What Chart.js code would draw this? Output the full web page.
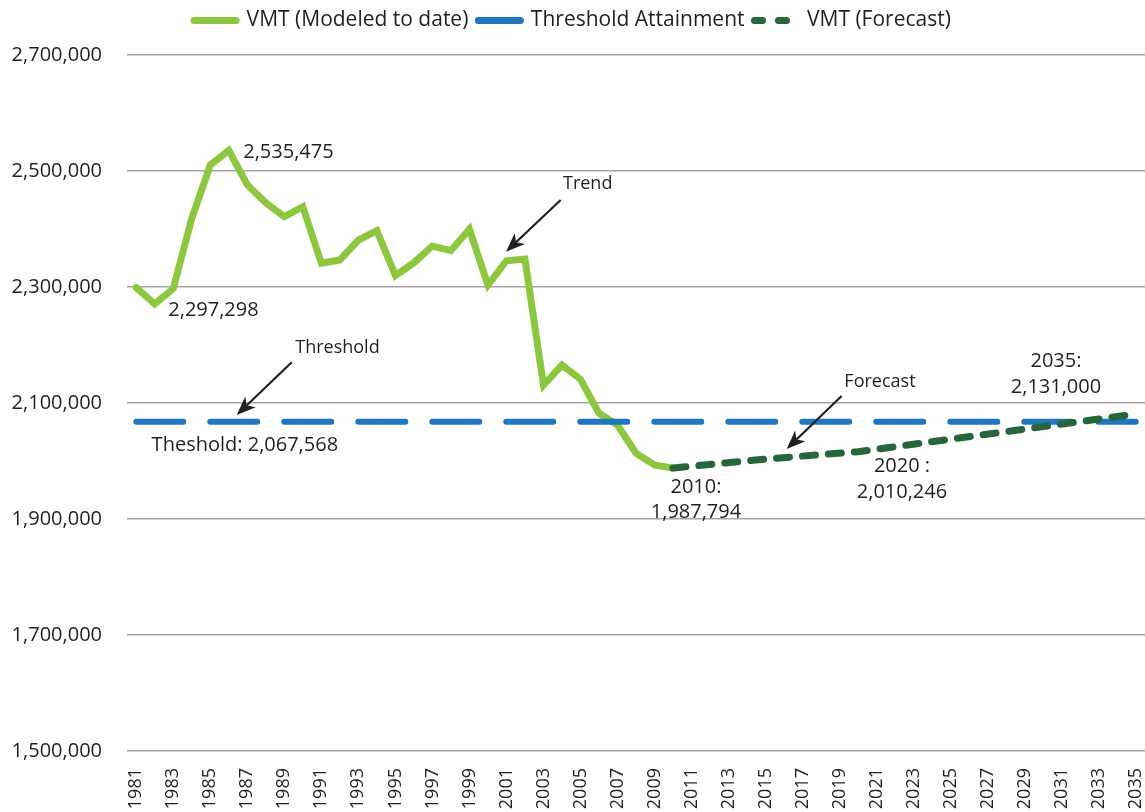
<!DOCTYPE html>
<html>
<head>
<meta charset="utf-8">
<title>VMT</title>
<script src="https://cdn.jsdelivr.net/npm/chart.js@4.4.1/dist/chart.umd.min.js"></script>
<style>
  html, body { margin: 0; padding: 0; background: #fff; }
</style>
</head>
<body>
<canvas id="vmt_chart" width="1145" height="812"></canvas>
<script>
// categories
const years = [
  "1981", "1982", "1983", "1984", "1985", "1986", "1987", "1988", "1989", "1990",
  "1991", "1992", "1993", "1994", "1995", "1996", "1997", "1998", "1999", "2000",
  "2001", "2002", "2003", "2004", "2005", "2006", "2007", "2008", "2009", "2010",
  "2011", "2012", "2013", "2014", "2015", "2016", "2017", "2018", "2019", "2020",
  "2021", "2022", "2023", "2024", "2025", "2026", "2027", "2028", "2029", "2030",
  "2031", "2032", "2033", "2034", "2035",
];

// VMT modeled, 1981 - 2010
const modeled_vmt = [
  2299000, 2270700, 2297298, 2418400, 2510300, 2535475, 2475900, 2445300, 2421200, 2438400,
  2340900, 2346600, 2381000, 2397100, 2319500, 2341900, 2370700, 2362600, 2399500, 2303400,
  2345300, 2348300, 2131000, 2165500, 2140900, 2082200, 2062100, 2013300, 1993100, 1987794,
];

// forecast
const forecast_years = ["2010", "2015", "2020", "2025", "2030", "2035"];
const forecast_vmt = [1987794, 2003400, 2016000, 2037600, 2059300, 2081000];

// threshold attainment
const threshold_years = ["1981", "2035"];
const threshold_vmt = [2067568, 2067568];

// y axis
const y_min = 1500000;
const y_max = 2700000;
const y_step = 200000;

// annotations, placed in chart units (year, value)
const note_labels = [
  { text: "2,535,475", year: 1986.78, value: 2521900, align: "left", size: 20 },
  { text: "2,297,298", year: 1982.73, value: 2250000, align: "left", size: 20 },
  { text: "Theshold: 2,067,568", year: 1981.83, value: 2017800, align: "left", size: 20 },
  { text: "Threshold", year: 1991.87, value: 2186700, align: "center", size: 18 },
  { text: "Trend", year: 2005.39, value: 2468500, align: "center", size: 18 },
  { text: "Forecast", year: 2021.18, value: 2128100, align: "center", size: 18 },
  { text: "2010:", year: 2011.24, value: 1945300, align: "center", size: 20 },
  { text: "1,987,794", year: 2011.24, value: 1901100, align: "center", size: 20 },
  { text: "2020 :", year: 2022.37, value: 1981600, align: "center", size: 20 },
  { text: "2,010,246", year: 2022.37, value: 1935700, align: "center", size: 20 },
  { text: "2035:", year: 2030.69, value: 2162600, align: "center", size: 20 },
  { text: "2,131,000", year: 2030.69, value: 2116700, align: "center", size: 20 },
];
const note_arrows = [
  { from: [2003.93, 2450000], to: [2000.98, 2360900] },
  { from: [1989.40, 2170200], to: [1986.43, 2079300] },
  { from: [2019.11, 2112100], to: [2016.14, 2020700] },
];

const TEXT = "#231f20";
const LIGHT_GREEN = "#8dc63f";
const BLUE = "#1f77c0";
const DARK_GREEN = "#27663a";
const FONT = '"Open Sans", "Noto Sans", sans-serif';

Chart.defaults.font.family = FONT;
Chart.defaults.color = TEXT;

const legend_dash = [[], [], [8, 16]];

function drawArrow(ctx, x1, y1, x2, y2) {
  const ang = Math.atan2(y2 - y1, x2 - x1);
  const cos = Math.cos(ang);
  const sin = Math.sin(ang);
  const head = 19;
  const half = 7.5;
  const bx = x2 - head * cos;
  const by = y2 - head * sin;
  const nx = x2 - head * 0.72 * cos;
  const ny = y2 - head * 0.72 * sin;
  ctx.beginPath();
  ctx.moveTo(x1, y1);
  ctx.lineTo(nx, ny);
  ctx.stroke();
  ctx.beginPath();
  ctx.moveTo(x2, y2);
  ctx.lineTo(bx + half * sin, by - half * cos);
  ctx.lineTo(nx, ny);
  ctx.lineTo(bx - half * sin, by + half * cos);
  ctx.closePath();
  ctx.fill();
}

const notes_plugin = {
  id: "notes",
  beforeLayout(chart) {
    // make the legend band a bit taller than chart.js does by default
    const legend = chart.legend;
    if (legend && !legend._tall) {
      const fit = legend.fit;
      legend.fit = function () {
        fit.call(this);
        this.height = 55;
      };
      legend._tall = true;
    }
  },
  afterDatasetsDraw(chart) {
    const { ctx } = chart;
    const xs = chart.scales.x;
    const ys = chart.scales.y;
    const px = (yr) => xs.getPixelForValue(yr - 1981);
    const py = (v) => ys.getPixelForValue(v);
    ctx.save();
    ctx.fillStyle = TEXT;
    ctx.textBaseline = "alphabetic";
    note_labels.forEach((n) => {
      ctx.font = n.size + "px " + FONT;
      ctx.textAlign = n.align;
      ctx.fillText(n.text, px(n.year), py(n.value));
    });
    ctx.strokeStyle = TEXT;
    ctx.lineWidth = 2.2;
    note_arrows.forEach((a) => {
      drawArrow(ctx, px(a.from[0]), py(a.from[1]), px(a.to[0]), py(a.to[1]));
    });
    ctx.restore();
  },
};

const vmt_ctx = document.getElementById("vmt_chart");

const vmt_chart = new Chart(vmt_ctx, {
  type: "line",
  data: {
    labels: years,
    datasets: [
      {
        label: "VMT (Modeled to date)",
        data: modeled_vmt,
        borderColor: LIGHT_GREEN,
        backgroundColor: LIGHT_GREEN,
        borderWidth: 7,
        borderCapStyle: "round",
        pointRadius: 0,
        tension: 0,
        order: 3,
      },
      {
        label: "Threshold Attainment",
        data: threshold_years.map((yr, i) => ({ x: yr, y: threshold_vmt[i] })),
        borderColor: BLUE,
        backgroundColor: BLUE,
        borderWidth: 6,
        borderDash: [47, 27],
        borderCapStyle: "round",
        pointRadius: 0,
        order: 2,
      },
      {
        label: "VMT (Forecast)",
        data: forecast_years.map((yr, i) => ({ x: yr, y: forecast_vmt[i] })),
        borderColor: DARK_GREEN,
        backgroundColor: DARK_GREEN,
        borderWidth: 7,
        borderDash: [13, 13],
        borderCapStyle: "round",
        pointRadius: 0,
        order: 1,
      },
    ],
  },
  options: {
    responsive: false,
    animation: false,
    layout: { padding: { top: 0, right: 0, bottom: 0, left: 0 } },
    plugins: {
      tooltip: { enabled: false },
      legend: {
        position: "top",
        labels: {
          usePointStyle: true,
          pointStyleWidth: 42,
          boxHeight: 8,
          padding: 10,
          color: TEXT,
          font: { size: 21 },
          generateLabels: (chart) =>
            chart.data.datasets.map((ds, i) => ({
              text: ds.label,
              fillStyle: ds.borderColor,
              strokeStyle: ds.borderColor,
              fontColor: TEXT,
              lineWidth: 7,
              lineCap: "round",
              lineDash: legend_dash[i],
              pointStyle: "line",
              hidden: false,
              datasetIndex: i,
            })),
        },
      },
    },
    scales: {
      x: {
        offset: true,
        grid: { display: false, drawTicks: false },
        border: { display: false },
        ticks: {
          autoSkip: false,
          minRotation: 90,
          maxRotation: 90,
          padding: 17,
          color: TEXT,
          font: { size: 18 },
          callback: (value, index) => (index % 2 === 0 ? years[index] : ""),
        },
        afterFit(scale) {
          scale.height = 61;
          scale.paddingLeft = 0;
          scale.paddingRight = 0;
        },
      },
      y: {
        min: y_min,
        max: y_max,
        grid: { color: "#a6a6a6", lineWidth: 1.5, drawTicks: false },
        border: { display: false },
        ticks: {
          stepSize: y_step,
          padding: 25,
          color: TEXT,
          font: { size: 20 },
          callback: (v) => v.toLocaleString("en-US"),
        },
        afterFit(scale) {
          scale.width = 127;
        },
      },
    },
  },
  plugins: [notes_plugin],
});
</script>
</body>
</html>
